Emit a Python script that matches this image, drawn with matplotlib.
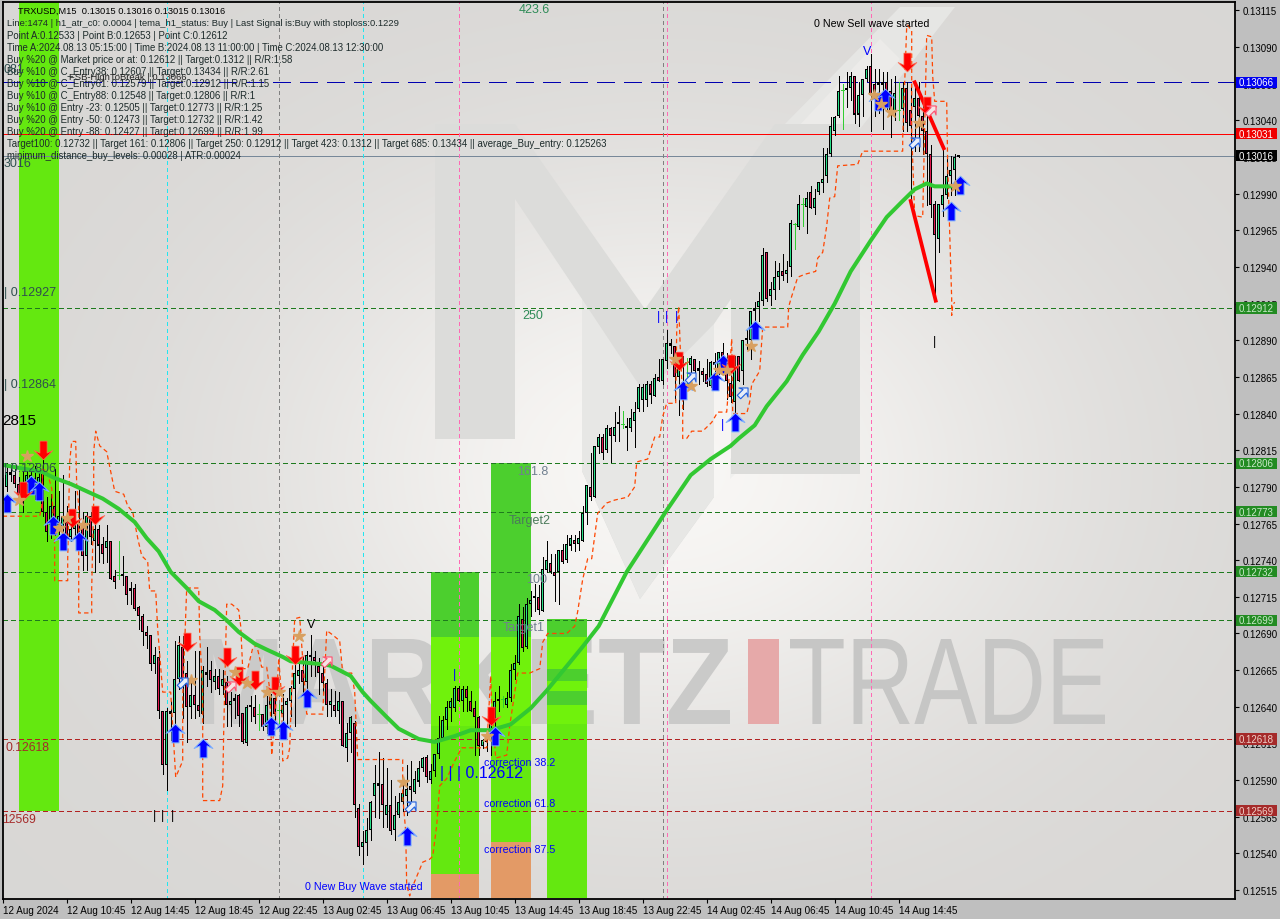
import numpy as np
import matplotlib
matplotlib.use("Agg")
import matplotlib.pyplot as plt
from matplotlib.patches import Polygon, Rectangle, PathPatch
from matplotlib.path import Path
from matplotlib.textpath import TextPath
from matplotlib.font_manager import FontProperties
from matplotlib.transforms import Affine2D, IdentityTransform, blended_transform_factory

plt.rcParams['font.family'] = ['Liberation Sans', 'DejaVu Sans']

# prices are kept in points (1 point = 0.00001)
opens = [
    12781,12790,12798,12798,12792,12792,12791,12792,12796,12787,
    12801,12773,12764,12777,12764,12761,12766,12756,12761,12765,
    12765,12743,12770,12753,12761,12751,12748,12753,12729,12729,
    12729,12729,12719,12721,12708,12702,12691,12689,12669,12674,
    12637,12600,12637,12636,12659,12681,12663,12640,12648,12641,
    12635,12664,12665,12657,12661,12654,12657,12641,12644,12648,
    12636,12615,12640,12640,12634,12635,12626,12641,12646,12637,
    12635,12641,12644,12652,12661,12665,12657,12675,12674,12668,
    12663,12656,12641,12641,12637,12644,12612,12622,12629,12571,
    12544,12547,12556,12579,12588,12587,12566,12573,12556,12566,
    12575,12579,12586,12582,12589,12598,12606,12590,12596,12608,
    12619,12631,12639,12639,12653,12644,12652,12644,12639,12633,
    12613,12620,12624,12629,12644,12644,12641,12646,12665,12670,
    12700,12681,12710,12714,12715,12705,12733,12738,12732,12732,
    12747,12740,12750,12754,12751,12753,12772,12790,12783,12817,
    12824,12815,12830,12825,12833,12832,12830,12830,12835,12843,
    12849,12849,12860,12852,12865,12862,12876,12888,12886,12865,
    12873,12874,12873,12877,12871,12869,12867,12859,12875,12869,
    12882,12868,12861,12848,12879,12869,12890,12890,12910,12913,
    12917,12950,12920,12924,12933,12937,12935,12940,12968,12967,
    12982,12981,12991,12980,12991,12997,13002,13017,13033,13043,
    13060,13062,13062,13070,13044,13057,13068,13077,13065,13066,
    13066,13066,13060,13046,13046,13048,13062,13047,13049,13055,
    13043,13033,13017,12983,12959,12982,12989,13002,13006,13015]
closes = [
    12790,12800,12800,12792,12785,12779,12798,12798,12787,12797,
    12773,12759,12777,12764,12770,12770,12756,12761,12766,12755,
    12743,12770,12756,12761,12750,12744,12753,12727,12725,12730,
    12729,12716,12721,12707,12702,12691,12688,12669,12675,12637,
    12600,12637,12635,12659,12682,12659,12640,12648,12641,12637,
    12665,12662,12658,12661,12652,12659,12641,12644,12646,12634,
    12616,12640,12641,12633,12635,12626,12641,12648,12635,12638,
    12641,12644,12653,12663,12665,12657,12675,12674,12671,12663,
    12656,12641,12644,12637,12644,12613,12622,12633,12573,12544,
    12548,12556,12575,12588,12586,12573,12573,12555,12566,12575,
    12581,12584,12583,12591,12598,12605,12592,12596,12608,12619,
    12631,12640,12644,12653,12644,12652,12646,12637,12633,12613,
    12617,12616,12629,12644,12644,12645,12646,12665,12670,12702,
    12680,12710,12713,12714,12706,12734,12740,12732,12729,12747,
    12739,12751,12755,12751,12755,12772,12791,12783,12818,12824,
    12813,12830,12825,12831,12833,12833,12830,12837,12841,12858,
    12858,12860,12853,12864,12862,12877,12888,12886,12865,12873,
    12872,12875,12878,12869,12869,12866,12860,12875,12873,12882,
    12873,12862,12851,12879,12862,12890,12890,12910,12912,12917,
    12948,12918,12925,12933,12937,12934,12938,12970,12969,12983,
    12983,12987,12980,12987,12998,13000,13017,13036,13042,13060,
    13061,13061,13070,13044,13057,13068,13075,13058,13058,13064,
    13064,13053,13046,13059,13047,13062,13038,13036,13055,13043,
    13033,13017,12982,12962,12983,12989,13002,13006,13015,13016]
highs = [
    12796,12806,12804,12804,12797,12801,12802,12802,12804,12801,
    12808,12783,12785,12802,12787,12798,12777,12773,12787,12789,
    12773,12773,12773,12766,12764,12756,12764,12753,12733,12753,
    12743,12729,12725,12724,12709,12703,12695,12689,12681,12678,
    12637,12639,12644,12685,12688,12688,12671,12659,12678,12678,
    12668,12681,12671,12666,12666,12665,12661,12650,12649,12649,
    12636,12641,12647,12648,12642,12635,12647,12649,12649,12642,
    12649,12646,12654,12673,12671,12674,12678,12689,12678,12673,
    12671,12659,12652,12651,12650,12644,12629,12634,12630,12574,
    12555,12564,12576,12600,12609,12605,12598,12590,12579,12581,
    12589,12600,12603,12596,12603,12606,12607,12601,12608,12634,
    12634,12644,12646,12654,12654,12654,12654,12651,12644,12634,
    12618,12622,12631,12650,12654,12647,12650,12669,12675,12710,
    12708,12714,12719,12724,12723,12742,12753,12744,12744,12747,
    12751,12757,12757,12757,12760,12777,12791,12813,12818,12826,
    12826,12832,12831,12841,12845,12842,12837,12843,12848,12860,
    12860,12862,12862,12867,12877,12877,12897,12891,12886,12881,
    12879,12878,12879,12877,12876,12871,12877,12876,12881,12882,
    12888,12881,12866,12879,12879,12890,12897,12910,12916,12923,
    12953,12950,12930,12944,12943,12949,12944,12972,12970,12989,
    12987,12991,12995,12993,12998,13021,13021,13042,13043,13070,
    13065,13073,13073,13070,13066,13068,13077,13085,13075,13075,
    13073,13073,13068,13070,13066,13066,13066,13063,13062,13066,
    13050,13043,13023,12985,12983,13021,13016,13016,13017,13016]
lows = [
    12779,12787,12794,12790,12782,12773,12785,12789,12782,12783,
    12770,12753,12755,12757,12758,12755,12755,12753,12755,12751,
    12733,12733,12751,12732,12739,12738,12739,12727,12721,12727,
    12723,12710,12710,12706,12693,12682,12680,12665,12663,12632,
    12594,12583,12617,12620,12652,12632,12616,12632,12632,12634,
    12629,12654,12650,12652,12649,12649,12627,12627,12632,12627,
    12615,12614,12630,12629,12624,12624,12622,12632,12631,12625,
    12623,12627,12634,12627,12656,12648,12646,12661,12661,12649,
    12649,12634,12634,12634,12629,12613,12603,12609,12565,12539,
    12533,12539,12549,12565,12564,12558,12558,12553,12549,12565,
    12569,12566,12572,12581,12586,12596,12589,12588,12593,12605,
    12618,12625,12630,12637,12644,12637,12637,12637,12607,12607,
    12612,12610,12607,12627,12637,12640,12640,12644,12659,12669,
    12678,12680,12702,12705,12703,12705,12732,12731,12712,12710,
    12738,12739,12747,12746,12747,12753,12765,12781,12783,12813,
    12809,12814,12807,12821,12821,12830,12815,12828,12817,12842,
    12842,12845,12847,12852,12862,12860,12871,12881,12849,12839,
    12843,12860,12857,12868,12860,12862,12859,12858,12859,12867,
    12871,12850,12848,12840,12862,12860,12884,12877,12903,12903,
    12914,12917,12914,12918,12925,12931,12930,12934,12952,12966,
    12968,12963,12980,12976,12990,12991,12998,13016,13030,13042,
    13034,13049,13054,13038,13036,13043,13067,13033,13043,13045,
    13034,13047,13029,13040,13040,13033,13033,12985,13019,13019,
    13017,12982,12974,12918,12950,12975,12987,12989,12989,13015]
green_dojis = [29, 64, 69, 125, 155, 171, 198, 200, 210, 224]

ma_bar = [0,6,10,13,17,21,25,29,33,36,39,42,46,49,53,56,59,63,66,70,72,80,82,87,90,92,96,99,
          104,108,113,117,122,127,132,136,145,149,156,161,166,172,177,182,184,188,191,196,
          200,204,208,212,217,221,225,228,231,233,238]
ma_val = [12805,12802,12800,12796,12792,12787,12782,12775,12766,12755,12746,12732,12721,12712,
          12706,12699,12691,12683,12679,12674,12671,12669,12668,12661,12650,12644,12633,12625,
          12618,12616,12620,12624,12624,12628,12639,12651,12681,12695,12732,12753,12774,12798,
          12809,12818,12823,12832,12845,12862,12880,12896,12915,12937,12958,12974,12985,12993,
          12997,12995,12995]

stop_bar = [0,8,9.25,9.75,10,11,12.25,13,13,16.25,16.25,16.75,17.25,18.25,18.5,19,19,22.25,22.25,
            22.75,22.75,23.25,24.25,26,28,30.25,31.25,32.5,33.75,34.75,36.25,36.75,38.25,38.75,40,
            42,43.25,45,45,46,49,49.25,50,50,54.25,55,55.25,56,57.25,59,59.5,60,61.25,62.5,63.5,
            64.75,66,66.75,67.25,68.5,69,69.75,70,71.25,71.75,72.5,73,74.25,75,76,80,81,82.5,84.25,
            85,87.25,88,88.75,100,100,100.75,101,101.75,102.25,105,106.75,107.5,108.5,109.25,111,
            113,114.75,119.25,121,122,122.25,123.25,126,126.75,128.75,131.75,134.25,135,136.25,141,
            143,143.75,145,146.25,147.25,148.75,151,153,156.25,158,158.5,161.25,163,164.25,165,166,
            168.25,168.5,169,169.5,170,170,171,172.25,175,177.25,178.75,181,181.25,182.25,182.5,186,
            186.75,187.25,189.25,190,196.25,196.5,197.25,198.75,200.5,203.25,203.75,205,206,206.75,
            208,208.75,213.75,215,225,225,226,226.25,227.25,227.25,228,230,231,232.25,232.5,233,236,
            236.25,236.75,237.25,237.25,237.5,238]
stop_val = [12770,12770,12770,12777,12802,12801,12789,12751,12726,12726,12741,12807,12821,12821,
            12791,12777,12704,12704,12721,12780,12814,12828,12818,12814,12787,12785,12777,12773,
            12755,12743,12739,12719,12719,12693,12650,12650,12592,12603,12646,12721,12721,12689,
            12650,12576,12576,12586,12623,12710,12710,12706,12695,12666,12666,12680,12682,12667,
            12667,12652,12607,12648,12673,12646,12603,12605,12612,12671,12700,12701,12673,12635,
            12635,12692,12689,12685,12663,12663,12650,12604,12604,12579,12555,12518,12511,12516,
            12534,12536,12538,12559,12586,12591,12603,12612,12612,12612,12661,12641,12605,12607,
            12627,12663,12663,12666,12684,12690,12690,12695,12705,12727,12741,12741,12772,12779,
            12781,12783,12790,12807,12809,12824,12824,12838,12847,12847,12896,12913,12877,12850,
            12823,12823,12828,12828,12834,12841,12841,12850,12891,12840,12840,12848,12860,12869,
            12899,12899,12913,12920,12933,12935,12937,12946,12950,12968,12987,12988,13009,13010,
            13019,13019,13028,13104,13105,13101,13032,12975,12974,13098,13097,13070,13053,13053,
            13009,12964,12918,12907,12914,12916]

sell_bar = [10,5,17.25,23,46,56,59,63,68,73,122,169,182,226,231]
sell_val = [12815,12787,12769,12771,12684,12674,12661,12658,12654,12675,12634,12876,12874,13080,13050]
buy_bar = [1,7,9,12.5,15,19,43,50,67,70,76,101,123,170,178,180,183,188,218.75,220.5,237,239.25]
buy_val = [12779,12791,12787,12764,12753,12753,12622,12612,12627,12624,12646,12552,12620,12856,12862,
           12874,12834,12897,13053,13055,12978,12996]
star_bar = [6,4,16,14,20,47,58,61,66,69,74,100,121,168,172,179,181,187,217.75,219.5,222,229,238]
star_val = [12811,12781,12769,12762,12764,12658,12664,12656,12650,12650,12688,12589,12620,12877,12859,
            12870,12870,12886,13057,13051,13046,13038,12995]
hollow_bar = [45,102,172,185,228]
hollow_val = [12657,12572,12865,12855,13025]
hollow_red_bar = [57,81,232]
hollow_red_val = [12654,12671,13047]

wedge_up = ([228,235.25],[13066,13021])
wedge_dn = ([227,233.25],[12985,12917])

vline_bars = [41,69,90,114,165,166,217]
vline_cols = ['#22e6f0','#808080','#22e6f0','#ff69b4','#808080','#ff69b4','#ff69b4']
green_levels = [12912,12806,12773,12732,12699]
red_levels = [12618,12569]
tick_vals = [13115,13090,13065,13040,13015,12990,12965,12940,12915,12890,12865,12840,12815,12790,12765,
             12740,12715,12690,12665,12640,12615,12590,12565,12540,12515]
time_labels = ['12 Aug 2024','12 Aug 10:45','12 Aug 14:45','12 Aug 18:45','12 Aug 22:45','13 Aug 02:45',
               '13 Aug 06:45','13 Aug 10:45','13 Aug 14:45','13 Aug 18:45','13 Aug 22:45','14 Aug 02:45',
               '14 Aug 06:45','14 Aug 10:45','14 Aug 14:45']
info_lines = [
    "Line:1474 | h1_atr_c0: 0.0004 | tema_h1_status: Buy | Last Signal is:Buy with stoploss:0.1229",
    "Point A:0.12533 | Point B:0.12653 | Point C:0.12612",
    "Time A:2024.08.13 05:15:00 | Time B:2024.08.13 11:00:00 | Time C:2024.08.13 12:30:00",
    "Buy %20 @ Market price or at: 0.12612 || Target:0.1312 || R/R:1.58",
    "Buy %10 @ C_Entry38: 0.12607 || Target:0.13434 || R/R:2.61",
    "Buy %10 @ C_Entry61: 0.12579 || Target:0.12912 || R/R:1.15",
    "Buy %10 @ C_Entry88: 0.12548 || Target:0.12806 || R/R:1",
    "Buy %10 @ Entry -23: 0.12505 || Target:0.12773 || R/R:1.25",
    "Buy %20 @ Entry -50: 0.12473 || Target:0.12732 || R/R:1.42",
    "Buy %20 @ Entry -88: 0.12427 || Target:0.12699 || R/R:1.99",
    "Target100: 0.12732 || Target 161: 0.12806 || Target 250: 0.12912 || Target 423: 0.1312 || Target 685: 0.13434 || average_Buy_entry: 0.125263",
    "minimum_distance_buy_levels: 0.00028 | ATR:0.00024",
]

W, H = 1280, 920
fig = plt.figure(figsize=(12.8, 9.2), dpi=100, facecolor='#bfbfbf')
ax = fig.add_axes([2.5/W, (H-899.5)/H, (1235-2.5)/W, (899.5-2.5)/H])
ax.set_facecolor('#dad8d5')


def px(pts):
    return [(x, H - y) for x, y in pts]


# watermark, all in screen pixels
yy, xx = np.mgrid[0:H, 0:W]
glow = np.exp(-(((xx-660)/400.0)**2 + ((yy-470)/300.0)**2))
shade = 0.845 + 0.125*glow
bg = np.dstack([shade+0.004, shade-0.002, shade-0.010])
ax.imshow(bg, extent=(0, W, 0, H), transform=IdentityTransform(), origin='upper', aspect='auto', zorder=0)
ax.set_xlim(-0.05, 308.075)
ax.set_ylim(12509.2, 13121.1)

for pts, col in [
    ([(825,175),(955,8),(900,8),(780,130)], '#e6e6e4'),
    ([(770,200),(900,60),(880,40),(740,190)], '#ecebe9'),
    ([(730,460),(860,330),(860,350),(730,480)], '#f0f0ee'),
    ([(435,125),(515,125),(645,310),(775,125),(860,125),(860,475),(731,475),(731,300),(714,325),(714,498),(640,600),(582,472),(582,300),(515,200),(515,440),(435,440)], '#dcdcda'),
    ([(582,300),(645,395),(714,325),(714,498),(640,600),(582,472)], '#e7e7e5'),
]:
    ax.add_patch(Polygon(px(pts), closed=True, transform=IdentityTransform(), facecolor=col, edgecolor='none', zorder=0.5))


def fit_word(word, x0, y0, x1, y1, col, weight='normal'):
    tp = TextPath((0, 0), word, size=100, prop=FontProperties(family='Liberation Sans', weight=weight))
    bb = tp.get_extents()
    tf = Affine2D().translate(-bb.x0, -bb.y0).scale((x1-x0)/bb.width, (y1-y0)/bb.height).translate(x0, H-y1)
    ax.add_patch(PathPatch(tp, transform=tf, facecolor=col, edgecolor='none', zorder=0.6))


fit_word('MARKETZ', 200, 640, 730, 725, '#cacac9', 'bold')
fit_word('TRADE', 790, 640, 1105, 725, '#c6c6c5')
ax.add_patch(Rectangle((748, H-725), 31, 85, transform=IdentityTransform(), facecolor='#e6a9a9', edgecolor='none', zorder=0.6))

# bright green zones
G_BASE, G_DARK, G_BRIGHT, ORANGE = '#64e810', '#4ccf2e', '#70f20c', '#e39a66'
data_x = blended_transform_factory(IdentityTransform(), ax.transData)


def zone(x0, x1, segments):
    for y0, y1, col in segments:
        ax.add_patch(Rectangle((x0, H-y1), x1-x0, y1-y0, transform=IdentityTransform(), facecolor=col, edgecolor='none', zorder=1))


zone(19, 59, [(0, 812, G_BASE)])
zone(431, 479, [(573, 638, G_DARK), (638, 727, G_BRIGHT), (727, 875, G_BASE), (875, 899, ORANGE)])
zone(491, 531, [(464, 638, G_DARK), (638, 727, G_BRIGHT), (727, 843, G_BASE), (843, 899, ORANGE)])
zone(547, 587, [(620, 638, G_DARK), (638, 670, G_BRIGHT), (670, 682, G_DARK), (682, 692, G_BRIGHT), (692, 706, G_DARK),
                (706, 725, G_BRIGHT), (725, 899, G_BASE)])

# level lines
ax.axhline(13066, color='#0000b0', lw=0.72, dashes=(18, 10), zorder=2, antialiased=False)
ax.axhline(13031, color='#ff0000', lw=0.72, zorder=2, antialiased=False)
ax.axhline(13016, color='#778899', lw=0.72, zorder=2, antialiased=False)
for v in green_levels:
    ax.axhline(v, color='#1e7a1e', lw=0.72, dashes=(4.5, 3), zorder=2, antialiased=False)
for v in red_levels:
    ax.axhline(v, color='#b22222', lw=0.72, dashes=(4.5, 3), zorder=2, antialiased=False)
for b, c in zip(vline_bars, vline_cols):
    ax.axvline(b, color=c, lw=0.72, dashes=(4, 3), zorder=2, antialiased=False)

# candles: 3 px black box with a 1 px colour core, as the terminal draws them
x = np.arange(len(opens))
o, c, hi, lo = map(np.array, (opens, closes, highs, lows))
doji = np.isin(x, green_dojis)
ax.vlines(x[~doji], lo[~doji], hi[~doji], color='black', lw=0.72, zorder=3, antialiased=False)
ax.vlines(x[doji], lo[doji], hi[doji], color='#32cd32', lw=0.72, zorder=3, antialiased=False)
ax.hlines(c[doji], x[doji]-0.4, x[doji]+0.4, color='#32cd32', lw=0.72, zorder=3, antialiased=False)
top = np.maximum(o, c)
bot = np.minimum(o, c)
solid = ~doji
ax.bar(x[solid], np.maximum(top[solid]-bot[solid], 1.4), bottom=bot[solid], width=0.75, color='black', lw=0, zorder=4, antialiased=False)
core = solid & (top-bot > 2)
bull = core & (c >= o)
bear = core & (c < o)
ax.bar(x[bull], top[bull]-bot[bull]-1.4, bottom=bot[bull]+0.7, width=0.25, color='#28e088', lw=0, zorder=4.5, antialiased=False)
ax.bar(x[bear], top[bear]-bot[bear]-1.4, bottom=bot[bear]+0.7, width=0.25, color='#e0184e', lw=0, zorder=4.5, antialiased=False)

# indicators
ax.plot(stop_bar, stop_val, color='#ff4500', lw=0.9, dashes=(3.5, 2.5), zorder=5)
ax.plot(ma_bar, ma_val, color='#32c832', lw=2.9, zorder=6, solid_capstyle='round')
ax.plot(*wedge_up, color='#ff0000', lw=2.7, zorder=7)
ax.plot(*wedge_dn, color='#ff0000', lw=2.7, zorder=7)

up_arrow = Path([(0,1),(1,0),(0.38,0.28),(0.38,-1),(-0.38,-1),(-0.38,0.28),(-1,0),(0,1)], closed=True)
dn_arrow = up_arrow.transformed(Affine2D().scale(1, -1))
slant = up_arrow.transformed(Affine2D().rotate_deg(-45))
ax.plot(buy_bar, buy_val, ls='none', marker=up_arrow, ms=13.5, mfc='#0000ff', mec='#7ab0ff', mew=0.7, zorder=8)
ax.plot(sell_bar, sell_val, ls='none', marker=dn_arrow, ms=13.5, mfc='#ff0000', mec='#ff6a50', mew=0.5, zorder=8)
ax.plot(star_bar, star_val, ls='none', marker='*', ms=9, mfc='#d8a060', mec='#d8a060', zorder=8)
ax.plot(hollow_bar, hollow_val, ls='none', marker=slant, ms=9, mfc='#e8eef8', mec='#2060e0', mew=0.8, zorder=8)
ax.plot(hollow_red_bar, hollow_red_val, ls='none', marker=slant, ms=9, mfc='#f4e4e4', mec='#ff5070', mew=0.8, zorder=8)

# axes and ticks
for s in ax.spines.values():
    s.set_linewidth(1.3)
    s.set_color('black')
    s.set_zorder(20)
ax.yaxis.tick_right()
ax.set_yticks(tick_vals)
ax.set_yticklabels(['0.%05d' % v for v in tick_vals], fontsize=7, color='black')
ax.tick_params(axis='y', length=3, width=0.8, pad=2.5)
ax.set_xticks(np.arange(len(time_labels))*16)
ax.set_xticklabels(time_labels, fontsize=7.1, ha='left', color='black')
ax.tick_params(axis='x', length=3, width=0.8, pad=1.5)


def lab(xp, yp, s, col='black', size=7.7, ha='left', **kw):
    ax.text(xp, H-yp, s, color=col, fontsize=size, ha=ha, va='center', transform=IdentityTransform(), zorder=12, clip_on=False, **kw)


# price tags on the right scale
tags = [(13066,'#0000f0','white'),(13031,'#f00000','white'),(13016,'#000000','white'),(12912,'#228b22','#c8e8c8'),
        (12806,'#228b22','#c8e8c8'),(12773,'#228b22','#c8e8c8'),(12732,'#228b22','#c8e8c8'),(12699,'#228b22','#c8e8c8'),
        (12618,'#a52a2a','#f0d0c8'),(12569,'#a52a2a','#f0d0c8')]
for v, bc, tc in tags:
    ax.add_patch(Rectangle((1236, v-3.8), 41, 7.6, transform=data_x, facecolor=bc, edgecolor='none', zorder=15, clip_on=False))
    ax.text(1256.5, v, '0.%05d' % v, color=tc, fontsize=7, ha='center', va='center', transform=data_x, zorder=16, clip_on=False)

# text block top left
lab(18, 11, 'TRXUSD,M15  0.13015 0.13016 0.13015 0.13016', size=6.7)
for i, line in enumerate(info_lines):
    lab(7, 24+12*i, line, col='#1c2a2a', size=6.75 if i == 0 else 6.98)
lab(69, 78, 'FSB-HighToBreak | 0.13066', col='#222222', size=6.8)

lab(4, 70, '081', col='#2f4f4f', size=9)
lab(4, 164, '3016', col='#2f4f4f', size=9)
lab(4, 293, '| 0.12927', col='#2f4f4f', size=9)
lab(4, 385, '| 0.12864', col='#2f4f4f', size=9)
lab(2, 421, '2815', col='black', size=11)
lab(4, 469, '| 0.12806', col='#2f4f4f', size=9)
lab(5, 748, '0.12618', col='#a52a2a', size=8.8)
lab(2, 820, '12569', col='#a52a2a', size=8.8)
lab(534, 10, '423.6', col='#2e8b57', size=9, ha='center')
lab(533, 316, '250', col='#2e8b57', size=9, ha='center')
lab(533, 472, '161.8', col='#708090', size=9, ha='center')
lab(530, 521, 'Target2', col='#4a7a5a', size=9, ha='center')
lab(537, 580, '100', col='#708090', size=9, ha='center')
lab(524, 628, 'Target1', col='#708090', size=9, ha='center')
lab(484, 763, 'correction 38.2', col='#0000ff')
lab(484, 804, 'correction 61.8', col='#0000ff')
lab(484, 850, 'correction 87.5', col='#0000ff')
lab(305, 887, '0 New Buy Wave started', col='#0000ff')
lab(814, 24, '0 New Sell wave started', col='black')
lab(440, 774, '| | | 0.12612', col='#0000ff', size=11.5)
lab(867, 52, 'V', col='#0000ff', size=9, ha='center')
lab(311, 625, 'V', col='black', size=9, ha='center')
lab(154, 816, '|', col='black', size=9, ha='center')
lab(163, 816, '|', col='black', size=9, ha='center')
lab(172, 816, '|', col='black', size=9, ha='center')
lab(658, 317, '|', col='#0000ff', size=9, ha='center')
lab(667, 317, '|', col='#0000ff', size=9, ha='center')
lab(677, 317, '|', col='#0000ff', size=9, ha='center')
lab(723, 425, '|', col='#0000ff', size=9, ha='center')
lab(455, 675, '|', col='#0000ff', size=9, ha='center')
lab(935, 342, '|', col='black', size=9, ha='center')

fig.savefig('out.png', dpi=100, facecolor=fig.get_facecolor())
